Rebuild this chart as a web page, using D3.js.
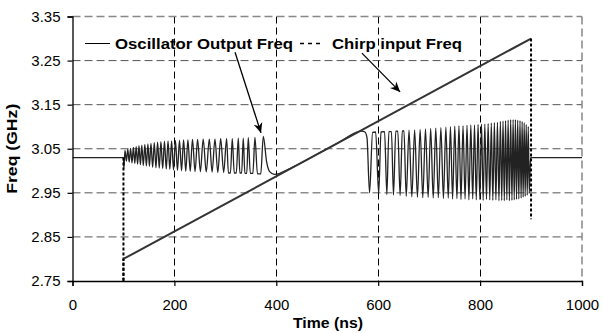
<!DOCTYPE html>
<html><head><meta charset="utf-8">
<script src="https://cdn.jsdelivr.net/npm/d3@7/dist/d3.min.js"></script>
<style>
html,body{margin:0;padding:0;background:#fff;}
svg{display:block;font-family:Arial,"Liberation Sans",sans-serif;}
</style></head>
<body>
<script>
// ---- data ----
const xTicks = [0, 200, 400, 600, 800, 1000];
const yTicks = [2.75, 2.85, 2.95, 3.05, 3.15, 3.25, 3.35];

// Oscillator output frequency: free-running, pulled, locked, unlocked, free-running
const flatBefore = [[0, 3.030], [100, 3.030]];
const preLock = [
 [100.8, 3.005], [103, 3.046], [105.8, 3.022], [108.5, 3.049], [111.3, 3.020], [114, 3.051],
 [116.8, 3.018], [119.5, 3.053], [122.3, 3.017], [125, 3.055], [127.8, 3.015], [130.5, 3.057],
 [133.3, 3.014], [136, 3.058], [139, 3.012], [142, 3.060], [145, 3.011], [148, 3.061],
 [151, 3.010], [154, 3.062], [157.3, 3.008], [160.5, 3.064], [163.8, 3.007], [167, 3.065],
 [170.3, 3.006], [173.5, 3.066], [177, 3.005], [180.5, 3.067], [184, 3.004], [187.5, 3.068],
 [191, 3.003], [194.5, 3.068], [198.3, 3.002], [202, 3.069], [206, 3.001], [210, 3.069],
 [214, 3.000], [218, 3.070], [222.3, 2.999], [226.5, 3.070], [231, 2.999], [235.5, 3.071],
 [240.5, 2.998], [245.5, 3.071], [251, 2.998], [256.5, 3.072], [262.5, 2.997], [268.5, 3.072],
 [274, 2.997], [279.6, 3.072], [285.2, 2.996], [290.8, 3.073], [296.7, 2.996], [302.5, 3.073],
 [306, 2.995], [310, 2.995], [313.6, 3.073], [317.5, 2.995], [321.5, 2.995], [325.4, 3.074],
 [328.5, 2.995], [332, 2.995], [335.2, 3.074], [338.3, 2.994], [342, 2.994], [345, 3.075],
 [349, 2.994], [354, 2.994], [358.1, 3.076], [363, 2.993], [369.5, 2.993], [374.5, 3.078]
];
const locked = [
 [381, 3.020], [387, 2.998], [396, 2.992], [404, 2.993], [415, 2.999], [427, 3.005],
 [440, 3.0125], [480, 3.0375], [520, 3.0625], [562, 3.089]
];
const unlocked = [
 [568, 3.090], [574, 3.088], [578, 3.075], [583, 2.950], [589, 3.087], [595, 3.088],
 [601, 2.948], [605.5, 3.088], [612.5, 3.089], [617, 2.946], [621, 3.089], [626, 3.089],
 [630, 2.945], [634.5, 3.090], [638.5, 3.090], [643, 2.944], [647.5, 3.090], [650.5, 3.091],
 [655, 2.942], [660.5, 3.092], [666, 2.941], [671.5, 3.093], [677, 2.940], [682.3, 3.094],
 [687.5, 2.939], [692.8, 3.095], [698, 2.940], [703, 3.096], [708, 2.938], [713, 3.097],
 [718, 2.939], [723, 3.098], [728, 2.937], [732.8, 3.099], [737.5, 2.938], [741.8, 3.100],
 [746, 2.936], [750.3, 3.101], [754.5, 2.937], [758.5, 3.102], [762.5, 2.935], [766.5, 3.102],
 [770.5, 2.936], [774.3, 3.103], [778, 2.934], [781.8, 3.104], [785.5, 2.936], [789, 3.104],
 [792.5, 2.934], [796, 3.105], [799.5, 2.935], [802.8, 3.106], [806, 2.933], [809.3, 3.106],
 [812.5, 2.935], [815.8, 3.107], [819, 2.934], [822, 3.108], [825, 2.933], [828, 3.109],
 [831, 2.934], [834, 3.110], [837, 2.932], [839.8, 3.112], [842.5, 2.933], [845, 3.113],
 [847.5, 2.932], [850, 3.114], [852.5, 2.934], [855, 3.115], [857.5, 2.932], [860, 3.116],
 [862.5, 2.933], [864.8, 3.116], [867, 2.934], [869.3, 3.116], [871.5, 2.935], [873.8, 3.115],
 [876, 2.936], [878.3, 3.114], [880.5, 2.938], [882.5, 3.112], [884.5, 2.940], [886.5, 3.109],
 [888.5, 2.942], [890.5, 3.105], [892.5, 2.945], [894.5, 3.100], [896.5, 2.950]
];
const flatAfter = [[899, 3.030], [901, 3.030], [1000, 3.030]];

// Chirp input frequency
const chirp = [[100, 3.03], [100, 2.75], [100, 2.80], [900, 3.30], [900, 2.89]];

// Annotation arrows (data units): [from, to]
const arrowOsc = [[319, 3.269], [370, 3.086]];
const arrowChirp = [[568, 3.267], [643, 3.179]];

const seriesNames = ["Oscillator Output Freq", "Chirp input Freq"];

// ---- layout ----
const W = 602, H = 333;
const svg = d3.select("body").append("svg").attr("width", W).attr("height", H);

const x = d3.scaleLinear().domain([0, 1000]).range([72.5, 582]);
const y = d3.scaleLinear().domain([2.75, 3.35]).range([281, 16.5]);

const defs = svg.append("defs");
defs.append("clipPath").attr("id", "clip").append("rect")
  .attr("x", x(0)).attr("y", y(3.35)).attr("width", x(1000) - x(0)).attr("height", y(2.75) - y(3.35));
defs.append("marker").attr("id", "ah").attr("viewBox", "0 0 10 10")
  .attr("refX", 10).attr("refY", 5).attr("markerWidth", 10).attr("markerHeight", 10)
  .attr("markerUnits", "userSpaceOnUse").attr("orient", "auto")
  .append("path").attr("d", "M0,0.5 L10,5 L0,9.5 L3,5 Z").attr("fill", "#000");

// gridlines
svg.append("g").selectAll("line").data(yTicks.filter(v => v > 2.76 && v < 3.34)).join("line")
  .attr("x1", x(0)).attr("x2", x(1000)).attr("y1", d => y(d)).attr("y2", d => y(d))
  .attr("stroke", "#555").attr("stroke-width", 1).attr("stroke-dasharray", "8,4");
svg.append("g").selectAll("line").data(xTicks.filter(v => v > 0 && v < 1000)).join("line")
  .attr("x1", d => Math.round(x(d)) + 0.5).attr("x2", d => Math.round(x(d)) + 0.5)
  .attr("y1", y(3.35)).attr("y2", y(2.75))
  .attr("stroke", "#000").attr("stroke-width", 1).attr("stroke-dasharray", "7,4");
// top and right borders (dashed gray)
svg.append("line").attr("x1", x(0)).attr("x2", x(1000)).attr("y1", y(3.35)).attr("y2", y(3.35))
  .attr("stroke", "#888").attr("stroke-width", 1.5).attr("stroke-dasharray", "8,4");
svg.append("line").attr("x1", x(1000)).attr("x2", x(1000)).attr("y1", y(3.35)).attr("y2", y(2.75))
  .attr("stroke", "#888").attr("stroke-width", 1.5).attr("stroke-dasharray", "8,4");

// oscillator
const osc = [].concat(flatBefore, preLock, locked, unlocked, flatAfter);
const plot = svg.append("g").attr("clip-path", "url(#clip)");
plot.append("path").datum(osc)
  .attr("d", d3.line().x(d => x(d[0])).y(d => y(d[1])).curve(d3.curveMonotoneX))
  .attr("fill", "none").attr("stroke", "#222").attr("stroke-width", 1.3);

// chirp: ramp solid, vertical jumps dotted
const segs = d3.pairs(chirp);
plot.selectAll(".chirp").data(segs).join("line").attr("class", "chirp")
  .attr("x1", d => x(d[0][0])).attr("y1", d => y(d[0][1]))
  .attr("x2", d => x(d[1][0])).attr("y2", d => y(d[1][1]))
  .attr("stroke", d => d[0][0] === d[1][0] ? "#000" : "#333")
  .attr("stroke-width", 2)
  .attr("stroke-dasharray", d => d[0][0] === d[1][0] ? "3,2" : null);

// axes
const yAxis = d3.axisLeft(y).tickValues(yTicks).tickFormat(d3.format(".2f")).tickSize(5).tickPadding(7);
const xAxis = d3.axisBottom(x).tickValues(xTicks).tickFormat(d3.format("d")).tickSize(5).tickPadding(13);
const gy = svg.append("g").attr("transform", `translate(${x(0)},0)`).call(yAxis);
const gx = svg.append("g").attr("transform", `translate(0,${y(2.75)})`).call(xAxis);
[gy, gx].forEach(g => {
  g.select(".domain").attr("stroke", "#000").attr("stroke-width", 1.3);
  g.selectAll(".tick line").attr("stroke", "#000").attr("stroke-width", 1.2);
  g.selectAll("text").attr("font-size", 15).attr("fill", "#000")
    .attr("font-family", 'Arial,"Liberation Sans",sans-serif');
});

// titles
svg.append("text").attr("x", 328).attr("y", 328).attr("text-anchor", "middle")
  .attr("font-size", 15).attr("font-weight", "bold")
  .attr("textLength", 70).attr("lengthAdjust", "spacingAndGlyphs").text("Time (ns)");
svg.append("text").attr("transform", `translate(17,${(y(2.75) + y(3.35)) / 2}) rotate(-90)`)
  .attr("text-anchor", "middle").attr("font-size", 15).attr("font-weight", "bold")
  .attr("textLength", 90).attr("lengthAdjust", "spacingAndGlyphs").text("Freq (GHz)");

// legend
const lg = svg.append("g");
lg.append("line").attr("x1", 85).attr("x2", 110).attr("y1", 43.5).attr("y2", 43.5)
  .attr("stroke", "#000").attr("stroke-width", 1);
lg.append("text").attr("x", 115).attr("y", 48.5).attr("font-size", 15).attr("font-weight", "bold")
  .attr("textLength", 178).attr("lengthAdjust", "spacingAndGlyphs").text(seriesNames[0]);
lg.append("line").attr("x1", 300).attr("x2", 324).attr("y1", 43.5).attr("y2", 43.5)
  .attr("stroke", "#000").attr("stroke-width", 1.4).attr("stroke-dasharray", "4,4");
lg.append("text").attr("x", 332).attr("y", 48.5).attr("font-size", 15).attr("font-weight", "bold")
  .attr("textLength", 130).attr("lengthAdjust", "spacingAndGlyphs").text(seriesNames[1]);

// arrows
[arrowOsc, arrowChirp].forEach(a => {
  svg.append("line").attr("x1", x(a[0][0])).attr("y1", y(a[0][1]))
    .attr("x2", x(a[1][0])).attr("y2", y(a[1][1]))
    .attr("stroke", "#000").attr("stroke-width", 1.3).attr("marker-end", "url(#ah)");
});
</script>
</body></html>
